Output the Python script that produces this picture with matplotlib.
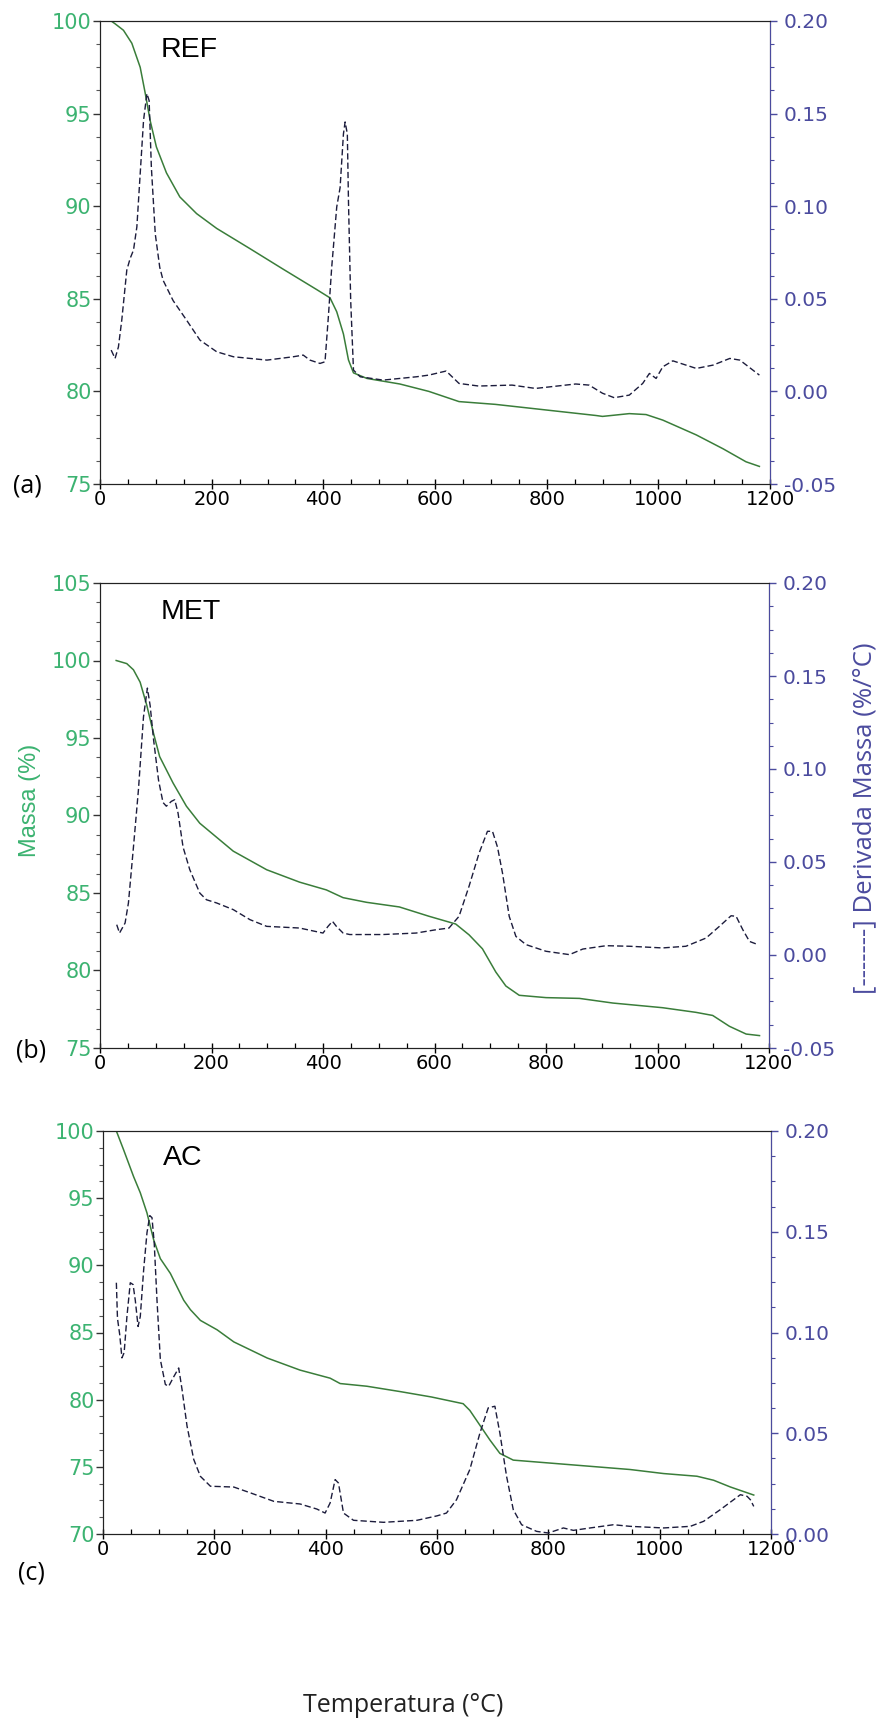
# TGA / DTG curves for REF, MET and AC samples
import matplotlib
matplotlib.use('Agg')
import matplotlib.pyplot as plt
from matplotlib.ticker import MultipleLocator, FormatStrFormatter

# ---------------- data ----------------
# (a) REF
ref_mass_t = [20, 27, 42, 57, 72, 81, 90, 101, 119, 143, 173, 209, 269, 328, 388, 412, 424,
              436, 445, 454, 478, 537, 589, 643, 708, 768, 828, 888, 900, 948, 978, 1008,
              1068, 1116, 1157, 1181]
ref_mass = [100.0, 99.85, 99.5, 98.8, 97.5, 96.1, 94.6, 93.2, 91.8, 90.5, 89.6, 88.8, 87.7,
            86.6, 85.5, 85.05, 84.3, 83.1, 81.7, 81.0, 80.7, 80.4, 80.0, 79.45, 79.3, 79.1,
            78.9, 78.7, 78.65, 78.8, 78.75, 78.45, 77.65, 76.9, 76.2, 75.95]
ref_dtg_t = [20, 27, 33, 39, 48, 54, 60, 66, 72, 78, 84, 88, 92, 99, 107, 113, 131, 155, 179,
             209, 239, 299, 346, 364, 376, 394, 403, 409, 415, 424, 430, 436, 439, 443, 445,
             449, 454, 466, 507, 567, 589, 620, 643, 678, 738, 780, 852, 876, 900, 921, 948,
             972, 984, 996, 1008, 1026, 1068, 1098, 1128, 1146, 1181]
ref_dtg = [0.0223, 0.0178, 0.024, 0.0385, 0.0655, 0.0718, 0.0763, 0.0888, 0.1176, 0.1464,
           0.1608, 0.157, 0.121, 0.085, 0.067, 0.060, 0.049, 0.0385, 0.0277, 0.0214, 0.0187,
           0.0169, 0.0187, 0.0196, 0.0169, 0.0151, 0.016, 0.0403, 0.067, 0.0996, 0.110, 0.139,
           0.1455, 0.139, 0.103, 0.049, 0.0115, 0.0079, 0.0061, 0.0079, 0.0088, 0.011, 0.0043,
           0.0029, 0.0034, 0.0016, 0.004, 0.0034, -0.001, -0.0034, -0.002, 0.0043, 0.0097,
           0.007, 0.0133, 0.0165, 0.0124, 0.0142, 0.0178, 0.0169, 0.0088]

# (b) MET
met_mass_t = [29, 48, 60, 72, 84, 96, 107, 131, 155, 179, 209, 239, 299, 358, 406, 436, 478,
              537, 590, 638, 662, 686, 710, 728, 752, 800, 860, 920, 1009, 1069, 1099, 1129,
              1159, 1183]
met_mass = [100.0, 99.8, 99.4, 98.6, 97.1, 95.3, 93.8, 92.1, 90.6, 89.5, 88.6, 87.7, 86.5,
            85.7, 85.2, 84.7, 84.4, 84.1, 83.5, 83.0, 82.3, 81.4, 79.9, 79.0, 78.4, 78.25,
            78.2, 77.9, 77.6, 77.3, 77.1, 76.4, 75.9, 75.8]
met_dtg_t = [30, 35, 45, 51, 60, 69, 78, 85, 90, 96, 105, 113, 119, 128, 134, 140, 149, 161,
             179, 191, 209, 239, 269, 299, 358, 400, 409, 417, 424, 436, 448, 507, 567, 603,
             626, 644, 662, 680, 695, 704, 713, 722, 734, 746, 764, 800, 842, 866, 908, 950,
             1009, 1051, 1087, 1111, 1132, 1141, 1153, 1165, 1180]
met_dtg = [0.0163, 0.0118, 0.0172, 0.028, 0.058, 0.089, 0.128, 0.1435, 0.134, 0.116, 0.094,
           0.082, 0.080, 0.0826, 0.0835, 0.0763, 0.058, 0.0459, 0.0333, 0.0297, 0.028, 0.0244,
           0.019, 0.0154, 0.0145, 0.0118, 0.0154, 0.0181, 0.0154, 0.0118, 0.011, 0.011,
           0.0118, 0.0136, 0.0145, 0.0208, 0.037, 0.0548, 0.0665, 0.0665, 0.058, 0.044,
           0.0208, 0.010, 0.0056, 0.002, 0.0002, 0.0032, 0.005, 0.0047, 0.0038, 0.0047,
           0.0091, 0.0154, 0.0211, 0.0208, 0.0136, 0.0073, 0.0056]

# (c) AC
ac_mass_t = [24, 37, 55, 67, 79, 91, 103, 121, 145, 157, 175, 205, 235, 295, 354, 408, 426,
             474, 534, 590, 647, 659, 677, 695, 713, 737, 797, 887, 947, 1007, 1067, 1097,
             1127, 1169]
ac_mass = [100.0, 98.6, 96.6, 95.4, 93.9, 91.9, 90.5, 89.4, 87.4, 86.7, 85.9, 85.2, 84.3,
           83.1, 82.2, 81.6, 81.2, 81.0, 80.6, 80.2, 79.7, 79.2, 78.1, 77.0, 76.0, 75.5,
           75.3, 75.0, 74.8, 74.5, 74.3, 74.0, 73.5, 72.9]
ac_dtg_t = [24, 26, 30, 34, 38, 43, 49, 54, 58, 63, 67, 73, 79, 84, 88, 92, 97, 103, 112,
            118, 127, 136, 142, 151, 163, 175, 193, 235, 265, 307, 354, 384, 399, 408, 417,
            423, 432, 450, 504, 564, 600, 617, 635, 659, 677, 692, 704, 713, 725, 737, 752,
            779, 800, 827, 845, 875, 917, 947, 1007, 1055, 1079, 1109, 1145, 1157, 1163, 1169]
ac_dtg = [0.1247, 0.107, 0.099, 0.0874, 0.090, 0.108, 0.1247, 0.1238, 0.116, 0.103, 0.108,
          0.131, 0.1495, 0.158, 0.157, 0.1445, 0.116, 0.0866, 0.0742, 0.0733, 0.078, 0.0824,
          0.0717, 0.0535, 0.037, 0.0286, 0.0237, 0.0233, 0.0204, 0.0162, 0.0149, 0.0124,
          0.0104, 0.0154, 0.027, 0.0253, 0.0104, 0.0068, 0.0058, 0.0068, 0.009, 0.0104,
          0.017, 0.032, 0.050, 0.0626, 0.0634, 0.050, 0.0286, 0.0121, 0.0046, 0.0013, 0.0005,
          0.003, 0.0018, 0.003, 0.0046, 0.0038, 0.003, 0.0038, 0.0063, 0.0121, 0.0195,
          0.0187, 0.017, 0.0137]

panels = [
    # name, label, mass_t, mass, dtg_t, dtg, left lim, right lim, axes rect (px)
    ('REF', '(a)', ref_mass_t, ref_mass, ref_dtg_t, ref_dtg, (75, 100), (-0.05, 0.20), (100, 21, 770, 484)),
    ('MET', '(b)', met_mass_t, met_mass, met_dtg_t, met_dtg, (75, 105), (-0.05, 0.20), (100, 583, 769, 1048)),
    ('AC', '(c)', ac_mass_t, ac_mass, ac_dtg_t, ac_dtg, (70, 100), (0.00, 0.20), (103, 1131, 771, 1534)),
]

W, H = 882, 1720
green_txt = '#3cb371'
green_line = '#3a7d3a'
blue_txt = '#4b4b9e'
dash_col = '#1c1c3c'

fig = plt.figure(figsize=(W / 100, H / 100), dpi=100)

for name, lab, mt, m, dt, d, ylim_l, ylim_r, (x0, y0, x1, y1) in panels:
    ax = fig.add_axes([x0 / W, 1 - y1 / H, (x1 - x0) / W, (y1 - y0) / H])
    ax2 = ax.twinx()

    ax.plot(mt, m, color=green_line, lw=1.1)
    ax2.plot(dt, d, color=dash_col, lw=1.0, dashes=(4.5, 2.2))

    ax.set_xlim(0, 1200)
    ax.set_ylim(*ylim_l)
    ax2.set_ylim(*ylim_r)

    ax.xaxis.set_major_locator(MultipleLocator(200))
    ax.xaxis.set_minor_locator(MultipleLocator(50))
    ax.yaxis.set_major_locator(MultipleLocator(5))
    ax.yaxis.set_minor_locator(MultipleLocator(1.25))
    ax2.yaxis.set_major_locator(MultipleLocator(0.05))
    ax2.yaxis.set_minor_locator(MultipleLocator(0.0125))
    ax2.yaxis.set_major_formatter(FormatStrFormatter('%.2f'))

    ax.tick_params(axis='x', which='major', direction='inout', length=7, width=1,
                   labelsize=14, pad=1, colors='black')
    ax.tick_params(axis='x', which='minor', direction='in', length=3.5, width=0.9)
    ax.tick_params(axis='y', which='major', direction='out', length=5, width=1,
                   labelsize=15, pad=1, colors=green_txt)
    ax.tick_params(axis='y', which='minor', direction='out', length=3, width=0.8, colors='#555555')
    ax.tick_params(axis='y', which='major', color='#333333')
    ax2.tick_params(axis='y', which='major', direction='out', length=5, width=1,
                    labelsize=14.5, pad=5, colors=blue_txt)
    ax2.tick_params(axis='y', which='minor', direction='out', length=3, width=0.8, colors=blue_txt)

    for sp in ['top', 'bottom', 'left']:
        ax.spines[sp].set_color('#222222')
        ax2.spines[sp].set_color('#222222')
    ax2.spines['right'].set_color(blue_txt)

    ax.text(0.09, 0.965, name, transform=ax.transAxes, fontsize=20.5,
            family='Liberation Sans', va='top', ha='left')

# panel letters
fig.text(27 / W, 1 - 486 / H, '(a)', fontsize=18, family='Open Sans', ha='center', va='center')
fig.text(31 / W, 1 - 1051 / H, '(b)', fontsize=18, family='Open Sans', ha='center', va='center')
fig.text(31 / W, 1 - 1573 / H, '(c)', fontsize=18, family='Open Sans', ha='center', va='center')

# axis titles
fig.text(30 / W, 1 - 800 / H, 'Massa (%)', rotation=90, fontsize=17, color=green_txt,
         family='Liberation Sans', ha='center', va='center')
fig.text(865 / W, 1 - 818 / H, '[-------] Derivada Massa (%/°C)', rotation=90, fontsize=18.5,
         color=blue_txt, family='Open Sans', ha='center', va='center')
fig.text(403 / W, 1 - 1705 / H, 'Temperatura (°C)', fontsize=18, color='#222222',
         family='Open Sans', ha='center', va='center')

fig.savefig('out.png', dpi=100)
